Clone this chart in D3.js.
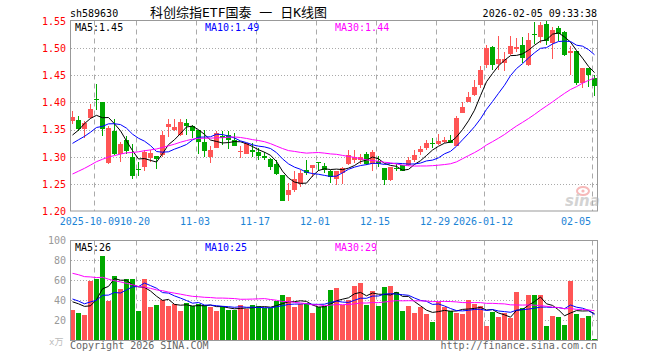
<!DOCTYPE html>
<html>
<head>
<meta charset="utf-8">
<script src="https://cdn.jsdelivr.net/npm/d3@7"></script>
<style>
body { margin: 0; background: #fff; }
svg text { font-family: 'DejaVu Sans Mono', 'Noto Sans CJK SC', monospace; font-size: 10px; }
</style>
</head>
<body>
<div id="canvas"></div>
<script>
String.prototype.format = function() {
    var args = arguments;
    return this.replace(/\{(\d+)\}/g, function(m, n) { return args[n]; });
};

// trading days shown, 2025-09-25 .. 2026-02-05
var dates = [
    '2025-09-25','2025-09-26','2025-09-29','2025-09-30',
    '2025-10-09','2025-10-10','2025-10-13','2025-10-14','2025-10-15','2025-10-16','2025-10-17',
    '2025-10-20','2025-10-21','2025-10-22','2025-10-23','2025-10-24',
    '2025-10-27','2025-10-28','2025-10-29','2025-10-30','2025-10-31',
    '2025-11-03','2025-11-04','2025-11-05','2025-11-06','2025-11-07',
    '2025-11-10','2025-11-11','2025-11-12','2025-11-13','2025-11-14',
    '2025-11-17','2025-11-18','2025-11-19','2025-11-20','2025-11-21',
    '2025-11-24','2025-11-25','2025-11-26','2025-11-27','2025-11-28',
    '2025-12-01','2025-12-02','2025-12-03','2025-12-04','2025-12-05',
    '2025-12-08','2025-12-09','2025-12-10','2025-12-11','2025-12-12',
    '2025-12-15','2025-12-16','2025-12-17','2025-12-18','2025-12-19',
    '2025-12-22','2025-12-23','2025-12-24','2025-12-25','2025-12-26',
    '2025-12-29','2025-12-30','2025-12-31',
    '2026-01-05','2026-01-06','2026-01-07','2026-01-08','2026-01-09',
    '2026-01-12','2026-01-13','2026-01-14','2026-01-15','2026-01-16',
    '2026-01-19','2026-01-20','2026-01-21','2026-01-22','2026-01-23',
    '2026-01-26','2026-01-27','2026-01-28','2026-01-29','2026-01-30',
    '2026-02-02','2026-02-03','2026-02-04','2026-02-05'
];

var open = [
    1.365,1.368,1.351,1.371,1.406,1.400,1.288,1.347,1.305,1.331,
    1.300,1.277,1.282,1.297,1.301,1.304,1.354,1.349,1.340,1.362,
    1.357,1.349,1.328,1.300,1.317,1.339,1.340,1.330,1.309,1.306,
    1.312,1.308,1.302,1.296,1.287,1.267,1.230,1.239,1.250,1.276,
    1.279,1.290,1.283,1.274,1.259,1.271,1.286,1.294,1.295,1.306,
    1.287,1.293,1.279,1.257,1.279,1.285,1.285,1.294,1.309,1.317,
    1.325,1.323,1.328,1.330,1.320,1.381,1.401,1.414,1.432,1.468,
    1.502,1.470,1.473,1.489,1.499,1.505,1.468,1.526,1.521,1.544,
    1.510,1.536,1.530,1.490,1.495,1.435,1.464,1.444
];
var high = [
    1.385,1.375,1.366,1.397,1.433,1.400,1.356,1.369,1.327,1.338,
    1.324,1.290,1.312,1.312,1.302,1.347,1.369,1.369,1.369,1.369,
    1.358,1.350,1.349,1.320,1.348,1.348,1.348,1.344,1.319,1.326,
    1.325,1.316,1.309,1.297,1.294,1.267,1.251,1.273,1.276,1.295,
    1.285,1.290,1.289,1.276,1.274,1.282,1.312,1.312,1.306,1.308,
    1.312,1.301,1.279,1.282,1.287,1.285,1.299,1.312,1.320,1.331,
    1.334,1.342,1.336,1.340,1.375,1.401,1.420,1.441,1.466,1.505,
    1.504,1.522,1.493,1.522,1.518,1.521,1.528,1.548,1.547,1.549,
    1.539,1.540,1.531,1.504,1.495,1.464,1.464,1.450
];
var low = [
    1.361,1.347,1.334,1.369,1.386,1.338,1.286,1.303,1.290,1.305,
    1.259,1.264,1.273,1.290,1.277,1.300,1.337,1.347,1.339,1.340,
    1.334,1.305,1.300,1.288,1.316,1.322,1.314,1.319,1.297,1.305,
    1.300,1.294,1.294,1.276,1.267,1.218,1.218,1.236,1.245,1.267,
    1.263,1.273,1.270,1.252,1.248,1.250,1.285,1.288,1.287,1.285,
    1.274,1.281,1.248,1.256,1.273,1.273,1.283,1.291,1.303,1.312,
    1.317,1.321,1.326,1.325,1.319,1.380,1.400,1.411,1.427,1.464,
    1.460,1.459,1.458,1.488,1.493,1.473,1.466,1.507,1.509,1.506,
    1.480,1.513,1.485,1.450,1.432,1.426,1.428,1.411
];
var close = [
    1.374,1.351,1.363,1.388,1.405,1.352,1.353,1.305,1.324,1.311,
    1.264,1.276,1.309,1.307,1.296,1.340,1.360,1.354,1.364,1.356,
    1.348,1.327,1.311,1.312,1.343,1.334,1.331,1.320,1.310,1.325,
    1.308,1.302,1.297,1.282,1.268,1.219,1.239,1.260,1.270,1.270,
    1.285,1.289,1.276,1.263,1.274,1.280,1.303,1.300,1.299,1.287,
    1.309,1.287,1.257,1.281,1.278,1.274,1.294,1.303,1.315,1.326,
    1.324,1.329,1.331,1.326,1.372,1.392,1.410,1.428,1.460,1.500,
    1.468,1.480,1.479,1.503,1.502,1.482,1.514,1.524,1.542,1.513,
    1.534,1.526,1.487,1.495,1.435,1.464,1.450,1.430
];
// volume, 万手
var volume = [
    30,27,25,59,61,84,39,64,51,61,
    61,29,61,33,35,40,34,36,29,37,
    34,36,35,33,29,34,30,30,35,31,
    35,34,32,32,39,45,43,33,36,36,
    27,33,34,50,52,35,40,54,57,35,
    49,34,53,54,48,29,34,27,33,26,
    18,38,33,29,27,26,40,36,34,14,
    28,23,27,22,48,32,45,45,45,14,
    24,23,15,59,26,22,24,1
];

// closes / volumes of the 29 sessions before the window, only used to seed the MA lines
// (estimated back from where the MA5/MA10/MA30 lines start on the left edge)
var warmClose = [
    1.195,1.205,1.210,1.215,1.220,1.225,1.230,1.241,
    1.240,1.248,1.236,1.252,1.260,1.245,1.258,1.270,1.262,1.255,1.265,1.271,
    1.285,1.300,1.312,1.318,1.332,
    1.306,1.303,1.340,1.377
];
var warmVolume = [
    70,82,68,80,76,
    95,110,88,104,100,
    85,78,70,82,64,75,68,60,72,64,
    48,52,40,45,34,
    37,38,56,30
];

var tickDates = ['2025-10-09','2025-10-20','2025-11-03','2025-11-17','2025-12-01','2025-12-15','2025-12-29','2026-01-12','2026-02-05'];
var tickLabels = ['2025-10-09','10-20','11-03','11-17','12-01','12-15','12-29','2026-01-12','02-05'];
var priceTicks = [1.20, 1.25, 1.30, 1.35, 1.40, 1.45, 1.50, 1.55];
var volumeTicks = [20, 40, 60, 80, 100];
var maPeriods = [5, 10, 30];

var LEFT = 70, RIGHT = 597;
var PRICE_TOP = 20.5, PRICE_BOTTOM = 211;
var VOL_TOP = 240.5, VOL_BOTTOM = 340.5;
var RED = '#ff5555', GREEN = '#00a800';
var MA_COLORS = ['#000000', '#0000ff', '#ff00ff'];
var GRID = '#aaaaaa';

function moving_average(values, warm, n) {
    var all = warm.concat(values);
    return values.map(function(v, i) {
        var j = i + warm.length;
        return d3.mean(all.slice(j - n + 1, j + 1));
    });
}

var svg = d3.select('#canvas').append('svg')
    .attr('width', 660)
    .attr('height', 360);

var x = d3.scaleBand().domain(dates).range([LEFT, RIGHT + 1]);
var yPrice = d3.scaleLinear().domain([1.20, 1.55]).range([211.2, 20.8]);
var yVol = d3.scaleLinear().domain([0, 100]).range([340, 240]);
var bw = x.bandwidth() - 1;
function cx(d) { return x(d) + bw / 2; }

// ---- header
svg.append('text').attr('x', 70).attr('y', 16.5).text('sh589630');
svg.append('text').attr('x', 150).attr('y', 17).style('font-size', '13px')
    .text('科创综指ETF国泰 一 日K线图');
svg.append('text').attr('x', 597).attr('y', 16.5).attr('text-anchor', 'end')
    .text('2026-02-05 09:33:38');

// ---- grids
function draw_hgrid(values, scale) {
    svg.append('g').selectAll('line').data(values).enter().append('line')
        .attr('x1', LEFT + 1).attr('x2', RIGHT)
        .attr('y1', function(d) { return Math.round(scale(d)) + 0.5; })
        .attr('y2', function(d) { return Math.round(scale(d)) + 0.5; })
        .attr('stroke', GRID)
        .attr('stroke-dasharray', '1,2');
}
draw_hgrid(priceTicks.slice(1, -1), yPrice);
draw_hgrid(volumeTicks.slice(0, -1), yVol);

[[PRICE_TOP, PRICE_BOTTOM], [VOL_TOP, VOL_BOTTOM]].forEach(function(r) {
    svg.append('g').selectAll('line').data(tickDates).enter().append('line')
        .attr('x1', function(d) { return x(d) + 0.5; })
        .attr('x2', function(d) { return x(d) + 0.5; })
        .attr('y1', r[0]).attr('y2', r[1])
        .attr('stroke', GRID)
        .attr('stroke-dasharray', '5,4');
});

// ---- axes
var pAxis = svg.append('g').attr('transform', 'translate({0},0)'.format(LEFT))
    .call(d3.axisLeft(yPrice).tickValues(priceTicks).tickSize(0).tickPadding(4).tickFormat(d3.format('.2f')));
pAxis.select('.domain').remove();
pAxis.attr('font-family', null).attr('font-size', null);
pAxis.selectAll('text').attr('fill', '#ff0000');

var vAxis = svg.append('g').attr('transform', 'translate({0},0)'.format(LEFT))
    .call(d3.axisLeft(yVol).tickValues(volumeTicks).tickSize(0).tickPadding(4));
vAxis.select('.domain').remove();
vAxis.attr('font-family', null).attr('font-size', null);
vAxis.selectAll('text').attr('fill', '#999999');
svg.append('text').attr('x', 49).attr('y', 345).attr('fill', '#bbbbbb').style('font-size', '9px').text('x万');

// date labels: centred under their line, pushed apart when they would touch
var labels = svg.append('g').selectAll('text').data(tickDates).enter().append('text')
    .attr('y', 225)
    .attr('fill', '#1c84d6')
    .text(function(d, i) { return tickLabels[i]; });
var boxes = [];
labels.each(function(d) {
    var w = this.getComputedTextLength();
    var left = x(d) - 1 - w / 2;
    if (left + w > RIGHT - 6) left = RIGHT - 6 - w;
    boxes.push({ left: left, w: w });
});
for (var b = boxes.length - 2; b >= 0; --b) {
    if (boxes[b].left + boxes[b].w > boxes[b + 1].left) {
        boxes[b].left = boxes[b + 1].left - boxes[b].w;
    }
}
labels.attr('x', function(d, i) { return boxes[i].left; });

// ---- candles
var idx = d3.range(dates.length);
var candles = svg.append('g').attr('shape-rendering', 'crispEdges');
idx.forEach(function(i) {
    var d = dates[i];
    var col = close[i] >= open[i] ? RED : GREEN;
    candles.append('line')
        .attr('x1', Math.floor(cx(d)) + 0.5).attr('x2', Math.floor(cx(d)) + 0.5)
        .attr('y1', yPrice(high[i])).attr('y2', yPrice(low[i]))
        .attr('stroke', col);
    var top = yPrice(Math.max(open[i], close[i]));
    var h = Math.max(1, yPrice(Math.min(open[i], close[i])) - top);
    candles.append('rect')
        .attr('x', x(d)).attr('y', top)
        .attr('width', bw).attr('height', h)
        .attr('fill', col);
    candles.append('rect')
        .attr('x', x(d)).attr('y', yVol(volume[i]))
        .attr('width', bw).attr('height', yVol(0) - yVol(volume[i]))
        .attr('fill', col);
});

// ---- MA lines + legends
var priceMA = maPeriods.map(function(n) { return moving_average(close, warmClose, n); });
var volMA = maPeriods.map(function(n) { return moving_average(volume, warmVolume, n); });
var legendX = [75, 205, 335];

maPeriods.forEach(function(n, k) {
    var lineP = d3.line()
        .x(function(v, i) { return cx(dates[i]); })
        .y(function(v) { return yPrice(v); });
    var lineV = d3.line()
        .x(function(v, i) { return cx(dates[i]); })
        .y(function(v) { return yVol(v); });
    svg.append('path').attr('d', lineP(priceMA[k]))
        .attr('fill', 'none').attr('stroke', MA_COLORS[k]).attr('stroke-width', 1);
    svg.append('path').attr('d', lineV(volMA[k]))
        .attr('fill', 'none').attr('stroke', MA_COLORS[k]).attr('stroke-width', 1);

    var last = dates.length - 1;
    svg.append('text').attr('x', legendX[k]).attr('y', 30.5).attr('fill', MA_COLORS[k])
        .text('MA{0}:{1}'.format(n, priceMA[k][last].toFixed(2)));
    svg.append('text').attr('x', legendX[k]).attr('y', 250.5).attr('fill', MA_COLORS[k])
        .text('MA{0}:{1}'.format(n, Math.round(volMA[k][last])));
});

// ---- frames
[[PRICE_TOP, PRICE_BOTTOM], [VOL_TOP, VOL_BOTTOM]].forEach(function(r) {
    svg.append('rect')
        .attr('x', LEFT + 0.5).attr('y', r[0])
        .attr('width', RIGHT - LEFT).attr('height', r[1] - r[0])
        .attr('fill', 'none').attr('stroke', '#999999');
});

// ---- sina mark
var logo = svg.append('g').attr('opacity', 0.55);
logo.append('ellipse').attr('cx', 583).attr('cy', 191).attr('rx', 6).attr('ry', 4)
    .attr('fill', 'none').attr('stroke', '#f08080').attr('stroke-width', 2);
logo.append('circle').attr('cx', 583).attr('cy', 191).attr('r', 1.6).attr('fill', '#f08080');
logo.append('text').attr('x', 565).attr('y', 206)
    .style('font-family', 'DejaVu Sans').style('font-size', '15px')
    .style('font-weight', 'bold').style('font-style', 'italic')
    .attr('fill', '#b0b0b0').text('sina');

// ---- footer
svg.append('text').attr('x', 70).attr('y', 349).attr('fill', '#666666').text('Copyright 2026 SINA.COM');
svg.append('text').attr('x', 597).attr('y', 349).attr('text-anchor', 'end').attr('fill', '#666666')
    .text('http://finance.sina.com.cn');
</script>
</body>
</html>
